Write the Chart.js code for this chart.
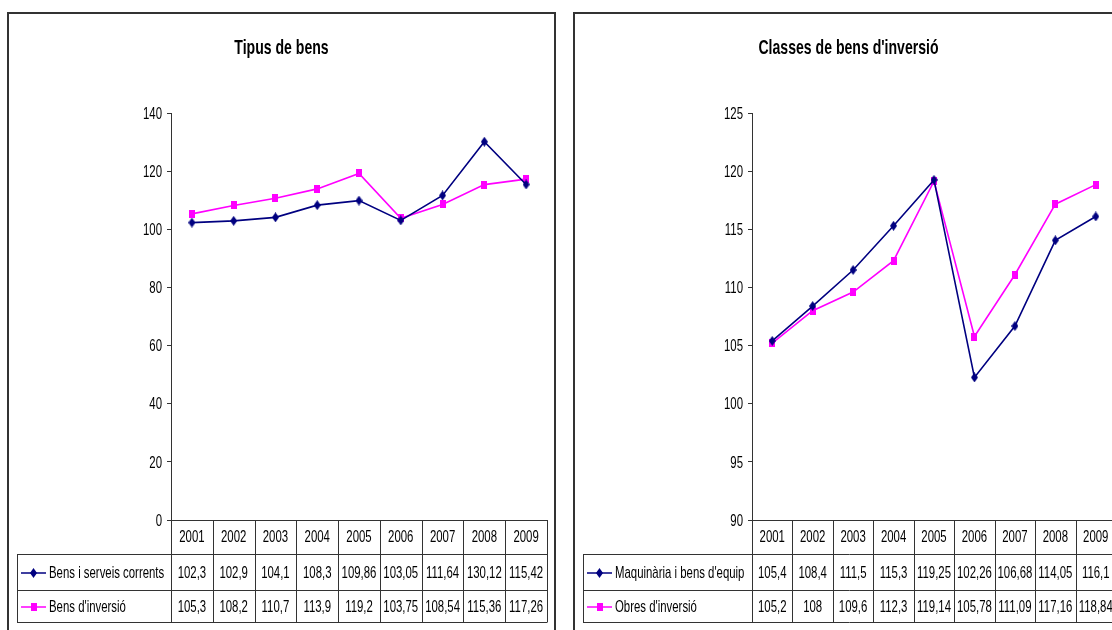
<!DOCTYPE html>
<html>
<head>
<meta charset="utf-8">
<script src="https://cdn.jsdelivr.net/npm/chart.js@4"></script>
<style>
  html, body { margin: 0; padding: 0; background: #fff; overflow: hidden; }
  .frame { position: absolute; top: 12px; border: 2px solid #333; box-sizing: border-box; background: #fff; }
  #frameLeft { left: 7px; width: 549px; height: 640px; }
  #frameRight { left: 573px; width: 551px; height: 640px; }
  canvas { display: block; }
</style>
</head>
<body>
<div class="frame" id="frameLeft"><canvas id="chartLeft" width="545" height="636"></canvas></div>
<div class="frame" id="frameRight"><canvas id="chartRight" width="547" height="636"></canvas></div>
<script>
const years = ['2001', '2002', '2003', '2004', '2005', '2006', '2007', '2008', '2009'];

const bensCorrents = [102.3, 102.9, 104.1, 108.3, 109.86, 103.05, 111.64, 130.12, 115.42];
const bensInversio = [105.3, 108.2, 110.7, 113.9, 119.2, 103.75, 108.54, 115.36, 117.26];

const maquinaria = [105.4, 108.4, 111.5, 115.3, 119.25, 102.26, 106.68, 114.05, 116.1];
const obres = [105.2, 108, 109.6, 112.3, 119.14, 105.78, 111.09, 117.16, 118.84];

const FONT = "'Liberation Sans', Arial, sans-serif";
const SQUISH = 0.67; // Excel squeezes its text horizontally
const NAVY = '#000080';
const MAGENTA = '#ff00ff';
const LINE = '#333333';

// little marker images, Excel style
function makeMarker(kind, color) {
    const c = document.createElement('canvas');
    const ctx = c.getContext('2d');
    if (kind === 'diamond') {
        c.width = 7; c.height = 10;
        ctx.fillStyle = color;
        ctx.beginPath();
        ctx.moveTo(3.5, 0);
        ctx.lineTo(7, 5);
        ctx.lineTo(3.5, 10);
        ctx.lineTo(0, 5);
        ctx.closePath();
        ctx.fill();
    } else {
        c.width = 6; c.height = 8;
        ctx.fillStyle = color;
        ctx.fillRect(0, 0, 6, 8);
    }
    return c;
}
const diamond = makeMarker('diamond', NAVY);
const square = makeMarker('square', MAGENTA);

function fmt(v) {
    return String(v).replace('.', ',');
}

function narrowText(ctx, text, x, y, size, align, bold, baseline) {
    ctx.save();
    ctx.font = (bold ? 'bold ' : '') + size + 'px ' + FONT;
    ctx.textAlign = align;
    ctx.textBaseline = baseline || 'middle';
    ctx.fillStyle = '#000';
    ctx.translate(x, y);
    ctx.scale(SQUISH, 1);
    ctx.fillText(text, 0, 0);
    ctx.restore();
}

// title, y tick labels and the data table under the plot
const dataTable = {
    id: 'dataTable',
    afterDraw(chart, args, opts) {
        const ctx = chart.ctx;
        const area = chart.chartArea;
        const x = chart.scales.x;
        const y = chart.scales.y;
        const n = chart.data.labels.length;
        const colW = (area.right - area.left) / n;
        const top = area.bottom;
        const headBottom = top + 34;
        const row1Bottom = top + 70;
        const row2Bottom = top + 102;
        const legLeft = area.left - opts.legendWidth;

        narrowText(ctx, opts.title, chart.width / 2, 40, 21, 'center', true, 'alphabetic');

        y.ticks.forEach(function(t) {
            narrowText(ctx, String(t.value), area.left - 9, y.getPixelForValue(t.value) + 1, 17, 'right');
        });

        ctx.save();
        ctx.strokeStyle = LINE;
        ctx.lineWidth = 1;
        ctx.beginPath();
        ctx.moveTo(area.left, top + 0.5);
        ctx.lineTo(area.right, top + 0.5);
        [headBottom, row1Bottom, row2Bottom].forEach(function(yy) {
            ctx.moveTo(legLeft, Math.round(yy) + 0.5);
            ctx.lineTo(area.right, Math.round(yy) + 0.5);
        });
        for (let i = 0; i <= n; i++) {
            const vx = Math.round(area.left + i * colW) + 0.5;
            ctx.moveTo(vx, top);
            ctx.lineTo(vx, row2Bottom + 0.5);
        }
        ctx.moveTo(Math.round(legLeft) + 0.5, headBottom);
        ctx.lineTo(Math.round(legLeft) + 0.5, row2Bottom + 0.5);
        ctx.stroke();
        ctx.restore();

        chart.data.labels.forEach(function(lab, i) {
            narrowText(ctx, lab, x.getPixelForValue(i), (top + headBottom) / 2, 17, 'center');
        });

        const rows = [[headBottom, row1Bottom], [row1Bottom, row2Bottom]];
        chart.data.datasets.forEach(function(ds, d) {
            const cy = Math.round((rows[d][0] + rows[d][1]) / 2) + 1;
            ds.data.forEach(function(v, i) {
                narrowText(ctx, fmt(v), x.getPixelForValue(i), cy, 17, 'center');
            });
            // legend key
            ctx.save();
            ctx.strokeStyle = ds.borderColor;
            ctx.lineWidth = 1.5;
            ctx.beginPath();
            ctx.moveTo(legLeft + 4, cy);
            ctx.lineTo(legLeft + 29, cy);
            ctx.stroke();
            const img = ds.pointStyle;
            ctx.drawImage(img, Math.round(legLeft + 16.5 - img.width / 2), Math.round(cy - img.height / 2));
            ctx.restore();
            narrowText(ctx, ds.label, legLeft + 32, cy, 17, 'left');
        });
    }
};

function makeChart(canvasId, title, labelA, dataA, labelB, dataB, yMin, yMax, yStep, yWidth, padRight, legendWidth) {
    return new Chart(document.getElementById(canvasId).getContext('2d'), {
        type: 'line',
        data: {
            labels: years,
            datasets: [{
                label: labelA,
                data: dataA,
                borderColor: NAVY,
                backgroundColor: NAVY,
                borderWidth: 1.6,
                pointStyle: diamond,
                tension: 0
            }, {
                label: labelB,
                data: dataB,
                borderColor: MAGENTA,
                backgroundColor: MAGENTA,
                borderWidth: 1.6,
                pointStyle: square,
                tension: 0
            }]
        },
        options: {
            responsive: false,
            animation: false,
            layout: { padding: { left: 0, right: padRight, top: 99, bottom: 28 } },
            plugins: {
                legend: { display: false },
                tooltip: { enabled: false },
                title: { display: false },
                dataTable: { legendWidth: legendWidth, title: title }
            },
            scales: {
                x: {
                    offset: true,
                    grid: { display: false },
                    border: { display: false },
                    ticks: { display: false },
                    afterFit: function(s) { s.height = 102; }
                },
                y: {
                    min: yMin,
                    max: yMax,
                    ticks: { stepSize: yStep, display: false },
                    grid: { drawOnChartArea: false, color: LINE, tickLength: 4 },
                    border: { color: LINE, width: 1 },
                    afterFit: function(s) { s.width = yWidth; }
                }
            }
        },
        plugins: [dataTable]
    });
}

makeChart('chartLeft', 'Tipus de bens',
    'Bens i serveis corrents', bensCorrents,
    "Bens d'inversió", bensInversio,
    0, 140, 20, 162, 7, 154);

makeChart('chartRight', "Classes de bens d'inversió",
    "Maquinària i bens d'equip", maquinaria,
    "Obres d'inversió", obres,
    90, 125, 5, 177, 6, 169);
</script>
</body>
</html>
